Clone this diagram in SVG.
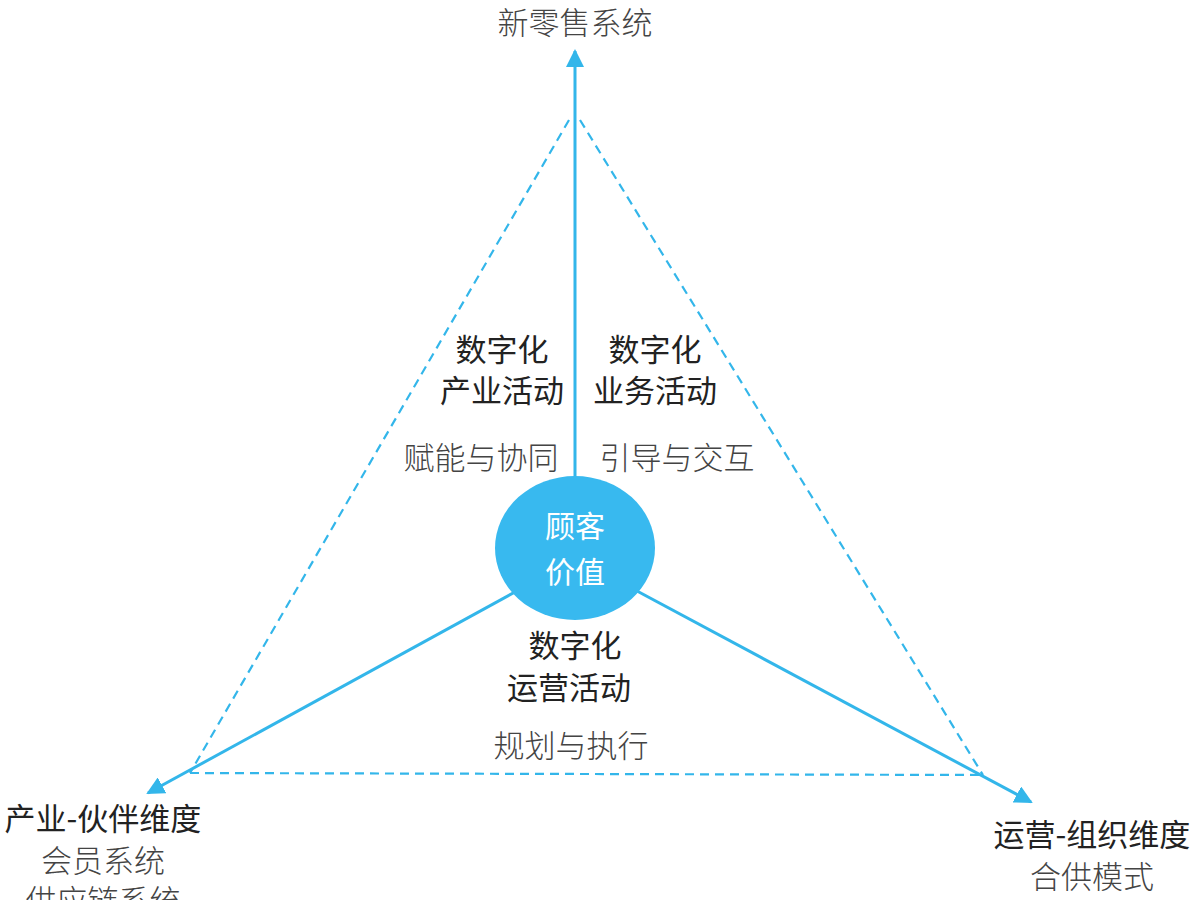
<svg xmlns="http://www.w3.org/2000/svg" width="1200" height="900" viewBox="0 0 1200 900">
<defs>
<marker id="arr" markerWidth="18" markerHeight="18" refX="16" refY="9" orient="auto" markerUnits="userSpaceOnUse">
<path d="M0,0 L18,9 L0,18 Z" fill="#33b6ea"/>
</marker>
<style>
text{font-family:"Noto Sans CJK SC","Noto Sans",sans-serif;text-anchor:middle}
.light{fill:#444;font-size:31px;font-weight:300}
.dark{fill:#222;font-size:31px;font-weight:400}
.white{fill:#fff;font-size:30px;font-weight:400}
.solid{stroke:#33b6ea;stroke-width:3;fill:none}
.dash{stroke:#33b6ea;stroke-width:2.2;fill:none;stroke-dasharray:9,6}
</style>
</defs>
<rect width="1200" height="900" fill="#fff"/>
<g id="connectors">
<line class="dash" x1="569" y1="120" x2="190" y2="773"/>
<line class="dash" x1="580" y1="120" x2="983" y2="775"/>
<line class="dash" x1="190" y1="773" x2="983" y2="775"/>
<line class="solid" x1="575" y1="478" x2="575" y2="51" marker-end="url(#arr)"/>
<line class="solid" x1="515" y1="592" x2="148" y2="793" marker-end="url(#arr)"/>
<line class="solid" x1="637" y1="591" x2="1031" y2="802" marker-end="url(#arr)"/>
</g>
<g id="center">
<ellipse cx="575" cy="548" rx="80" ry="72" fill="#38b9ef"/>
<text class="white" x="575" y="537">顾客</text>
<text class="white" x="575" y="583">价值</text>
</g>
<g id="top">
<text class="light" x="575" y="34">新零售系统</text>
</g>
<g id="left-activity">
<text class="dark" x="502" y="361">数字化</text>
<text class="dark" x="502" y="402">产业活动</text>
<text class="light" x="481" y="469">赋能与协同</text>
</g>
<g id="right-activity">
<text class="dark" x="655" y="361">数字化</text>
<text class="dark" x="655" y="402">业务活动</text>
<text class="light" x="677" y="469">引导与交互</text>
</g>
<g id="bottom-activity">
<text class="dark" x="575" y="657">数字化</text>
<text class="dark" x="569" y="699">运营活动</text>
<text class="light" x="571" y="757">规划与执行</text>
</g>
<g id="left-dim">
<text class="dark" x="103" y="830">产业-伙伴维度</text>
<text class="light" x="103" y="872">会员系统</text>
<text class="light" x="103" y="912">供应链系统</text>
</g>
<g id="right-dim">
<text class="dark" x="1092" y="846">运营-组织维度</text>
<text class="light" x="1092" y="888">合供模式</text>
</g>
</svg>
